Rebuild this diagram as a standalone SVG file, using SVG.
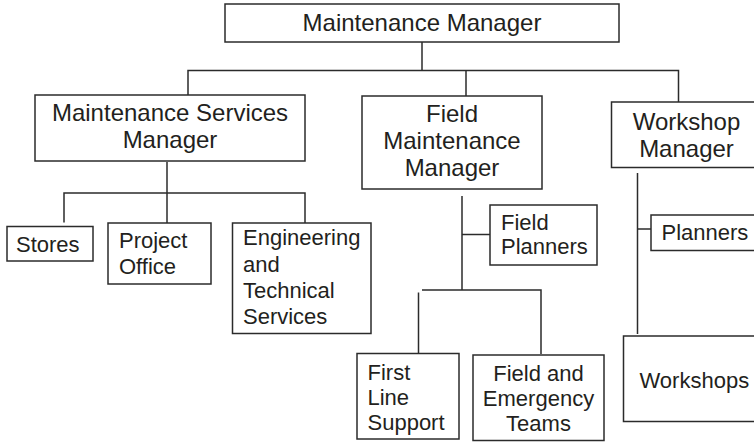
<svg xmlns="http://www.w3.org/2000/svg" width="754" height="443" viewBox="0 0 754 443">
<style>
.box{fill:#fff;stroke:#2b2b2b;stroke-width:1.5}
.ln{fill:none;stroke:#2b2b2b;stroke-width:1.5}
text{font-family:"Liberation Sans",Arial,sans-serif;fill:#231f20}
.t1{font-size:24px;text-anchor:middle}
.t2{font-size:22px}
.c{text-anchor:middle}
</style>
<rect width="754" height="443" fill="#fff"/>
<g id="connectors">
<path class="ln" d="M422,42 V70.5"/>
<path class="ln" d="M188,95 V70.5 H678.5 V102"/>
<path class="ln" d="M466,70.5 V96"/>
<path class="ln" d="M167,162 V223"/>
<path class="ln" d="M64,222.5 V193 H305 V223"/>
<path class="ln" d="M462,196 V290"/>
<path class="ln" d="M462,234.5 H490"/>
<path class="ln" d="M422,290 H541 V354"/>
<path class="ln" d="M418.5,292.5 V353.5"/>
<path class="ln" d="M637.5,173 V334"/>
<path class="ln" d="M637.5,229 H651"/>
</g>
<g id="maintenance-manager">
<rect class="box" x="225" y="4" width="394" height="38"/>
<text class="t1" x="422" y="31">Maintenance Manager</text>
</g>
<g id="maintenance-services-manager">
<rect class="box" x="35" y="95" width="270" height="66"/>
<text class="t1" x="170" y="121">Maintenance Services</text>
<text class="t1" x="170" y="148">Manager</text>
</g>
<g id="field-maintenance-manager">
<rect class="box" x="362" y="96" width="180" height="93"/>
<text class="t1" x="452" y="122">Field</text>
<text class="t1" x="452" y="149">Maintenance</text>
<text class="t1" x="452" y="176">Manager</text>
</g>
<g id="workshop-manager">
<rect class="box" x="611.5" y="102" width="150" height="65.5"/>
<text class="t1" x="686.5" y="130">Workshop</text>
<text class="t1" x="686.5" y="157">Manager</text>
</g>
<g id="stores">
<rect class="box" x="7" y="226.5" width="86" height="34.5"/>
<text class="t2" x="16" y="252">Stores</text>
</g>
<g id="project-office">
<rect class="box" x="108" y="223" width="103" height="61"/>
<text class="t2" x="119" y="248">Project</text>
<text class="t2" x="119" y="274">Office</text>
</g>
<g id="engineering">
<rect class="box" x="232.5" y="223" width="138.5" height="110.5"/>
<text class="t2" x="243" y="245">Engineering</text>
<text class="t2" x="243" y="271.5">and</text>
<text class="t2" x="243" y="298">Technical</text>
<text class="t2" x="243" y="324">Services</text>
</g>
<g id="field-planners">
<rect class="box" x="490" y="205" width="107" height="60"/>
<text class="t2" x="501" y="230">Field</text>
<text class="t2" x="501" y="254">Planners</text>
</g>
<g id="first-line-support">
<rect class="box" x="357" y="353.5" width="102" height="85.5"/>
<text class="t2" x="367.5" y="379.5">First</text>
<text class="t2" x="367.5" y="404.5">Line</text>
<text class="t2" x="367.5" y="429.5">Support</text>
</g>
<g id="field-emergency-teams">
<rect class="box" x="473" y="355" width="131" height="85.5"/>
<text class="t2 c" x="538.5" y="380.5">Field and</text>
<text class="t2 c" x="538.5" y="405.5">Emergency</text>
<text class="t2 c" x="538.5" y="430.5">Teams</text>
</g>
<g id="planners">
<rect class="box" x="651" y="215" width="110" height="35.5"/>
<text class="t2" x="661.5" y="240">Planners</text>
</g>
<g id="workshops">
<rect class="box" x="623.5" y="336" width="140" height="85.5"/>
<text class="t2" x="639.5" y="388">Workshops</text>
</g>
</svg>
